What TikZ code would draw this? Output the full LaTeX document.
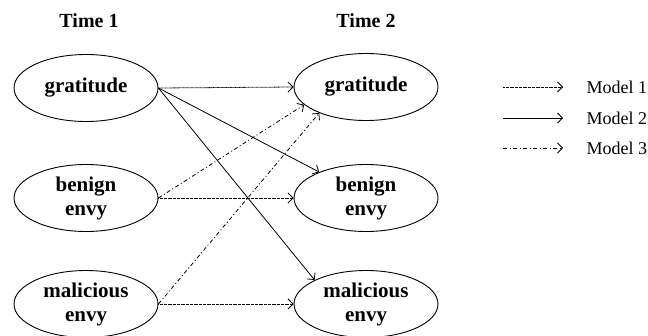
\documentclass[tikz,border=0pt]{standalone}
\usepackage{fontspec}
\setmainfont{Liberation Serif}
\usetikzlibrary{shapes.geometric,arrows.meta}

\tikzset{
	var/.style={ellipse, draw, line width=0.9pt, minimum width=144pt, minimum height=67pt,
		inner sep=0pt, align=center, font=\fontsize{21}{24}\selectfont\bfseries},
	head/.style={font=\fontsize{20}{22}\selectfont\bfseries},
	legtext/.style={anchor=west, font=\fontsize{18}{20}\selectfont},
	path/.style={line width=0.8pt, -{Straight Barb[length=5pt,width=10pt]}},
	mone/.style={path, dash pattern=on 0.8pt off 0.5pt},
	mtwo/.style={path},
	mthree/.style={path, dash pattern=on 4pt off 2.5pt on 1pt off 2.5pt},
}

\begin{document}
\begin{tikzpicture}[x=1pt,y=-1pt]
	\useasboundingbox (0,0) rectangle (648,335);
	% headers
	\node[head] (t1) at (89,21) {Time 1};
	\node[head] (t2) at (366,21) {Time 2};
	% time 1
	\node[var] (gL) at (86,88) {gratitude};
	\node[var] (bL) at (86,198) {benign\\envy};
	\node[var] (mL) at (86,304) {malicious\\envy};
	% time 2
	\node[var] (gR) at (366,87) {gratitude};
	\node[var] (bR) at (366,198) {benign\\envy};
	\node[var] (mR) at (366,304) {malicious\\envy};
	% model 1
	\draw[mone] (gL.east) -- (gR.west);
	\draw[mone] (bL.east) -- (bR.west);
	\draw[mone] (mL.east) -- (mR.west);
	% model 2
	\draw[mtwo] (gL.east) -- (bR.151);
	\draw[mtwo] (gL.east) -- (mR.155);
	% model 3
	\draw[mthree] (bL.east) -- (gR.196);
	\draw[mthree] (mL.east) -- (gR.209);
	% legend
	\coordinate (l1a) at (503,87);  \coordinate (l1b) at (563,87);
	\coordinate (l2a) at (503,118); \coordinate (l2b) at (563,118);
	\coordinate (l3a) at (503,148); \coordinate (l3b) at (563,148);
	\draw[mone] (l1a) -- (l1b);
	\draw[mtwo] (l2a) -- (l2b);
	\draw[mthree] (l3a) -- (l3b);
	\node[legtext] (m1) at (583,87) {Model 1};
	\node[legtext] (m2) at (583,118) {Model 2};
	\node[legtext] (m3) at (583,148) {Model 3};
\end{tikzpicture}
\end{document}
